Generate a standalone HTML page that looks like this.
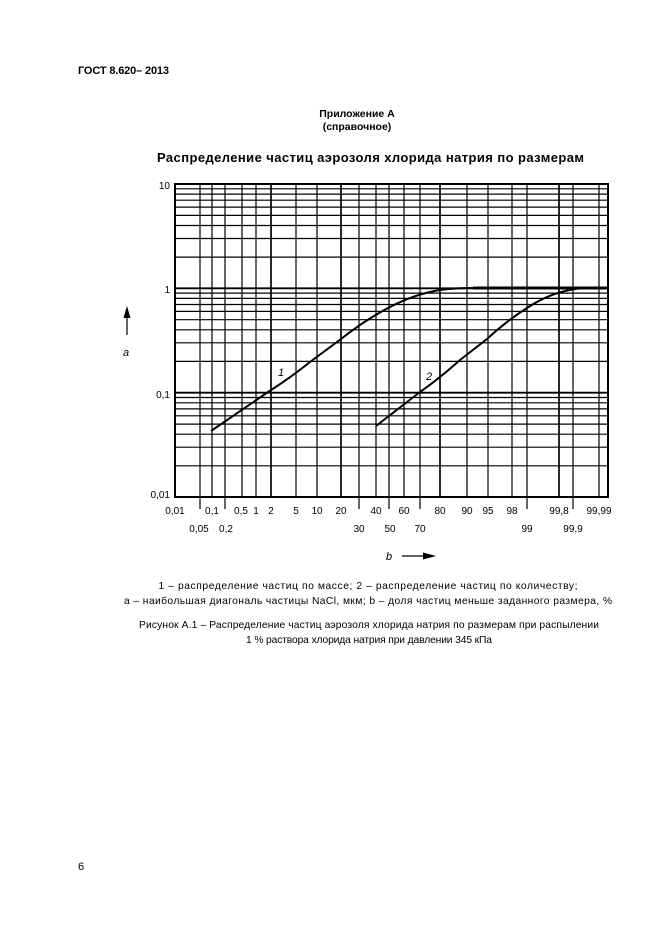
<!DOCTYPE html>
<html><head><meta charset="utf-8"><style>
html,body{margin:0;padding:0;background:#fff;}
svg{display:block;}
text{font-family:"Liberation Sans",sans-serif;fill:#000;}
</style></head><body>
<svg width="661" height="936" viewBox="0 0 661 936" xmlns="http://www.w3.org/2000/svg">
<text x="78" y="74" font-size="11" font-weight="bold" textLength="91">ГОСТ 8.620– 2013</text>
<text x="357" y="117" font-size="10.5" font-weight="bold" text-anchor="middle">Приложение А</text>
<text x="357" y="130" font-size="10.5" font-weight="bold" text-anchor="middle">(справочное)</text>
<text x="157" y="162" font-size="13" font-weight="bold" textLength="427">Распределение частиц аэрозоля хлорида натрия по размерам</text>

<g stroke="#000" stroke-width="1.2" fill="none">
<path d="M175 188.8H608M175 194.1H608M175 200.2H608M175 207.1H608M175 215.4H608M175 225.5H608M175 238.5H608M175 257.1H608
M175 293.1H608M175 298.4H608M175 304.5H608M175 311.4H608M175 319.7H608M175 329.8H608M175 342.8H608M175 361.4H608
M175 397.5H608M175 402.8H608M175 408.9H608M175 415.8H608M175 424.1H608M175 434.2H608M175 447.2H608M175 465.8H608"/>
<path d="M175 288.3H608M175 392.7H608" stroke-width="1.8"/>
<path d="M200 184V497M212 184V497M225 184V497M242 184V497M256 184V497M271 184V497M296 184V497M317 184V497M341 184V497M359 184V497M376 184V497M389 184V497M404 184V497M420 184V497M440 184V497M467 184V497M488 184V497M512 184V497M527 184V497M559 184V497M573 184V497M599 184V497"/>
<path d="M271 184V497M341 184V497M440 184V497M559 184V497" stroke-width="1.6"/>
<path d="M200 497V509M225 497V509M359 497V509M389 497V509M420 497V509M527 497V509M573 497V509"/>
<rect x="175" y="184" width="433" height="313" stroke-width="2"/>
<path d="M211 431 L271 390 Q290 378 310 362 L341 339 Q365 320 390 307 Q415 294 440 290 Q455 288 473 288 L608 288" stroke-width="2"/>
<path d="M608 288 L473 288" stroke-width="3"/>
<path d="M376 426 L420 392 Q440 378 460 360 L487 339 Q505 322 527 308 Q548 294 570 290 Q578 288 590 288" stroke-width="2"/>
</g>
<text x="278" y="376" font-size="11" font-style="italic">1</text>
<text x="426" y="380" font-size="11" font-style="italic">2</text>

<g font-size="10" text-anchor="end">
<text x="170" y="189">10</text>
<text x="170" y="293">1</text>
<text x="170" y="398">0,1</text>
<text x="170" y="498">0,01</text>
</g>
<text x="126" y="356" font-size="11" font-style="italic" text-anchor="middle">a</text>
<path d="M127 335V314" stroke="#000" stroke-width="1.2"/>
<path d="M123.5 318L127 306L130.5 318Z" fill="#000"/>

<g font-size="10" text-anchor="middle">
<text x="175" y="514">0,01</text>
<text x="212" y="514">0,1</text>
<text x="241" y="514">0,5</text>
<text x="256" y="514">1</text>
<text x="271" y="514">2</text>
<text x="296" y="514">5</text>
<text x="317" y="514">10</text>
<text x="341" y="514">20</text>
<text x="376" y="514">40</text>
<text x="404" y="514">60</text>
<text x="440" y="514">80</text>
<text x="467" y="514">90</text>
<text x="488" y="514">95</text>
<text x="512" y="514">98</text>
<text x="559" y="514">99,8</text>
<text x="599" y="514">99,99</text>
<text x="199" y="532">0,05</text>
<text x="226" y="532">0,2</text>
<text x="359" y="532">30</text>
<text x="390" y="532">50</text>
<text x="420" y="532">70</text>
<text x="527" y="532">99</text>
<text x="573" y="532">99,9</text>
</g>
<text x="389" y="560" font-size="11" font-style="italic" text-anchor="middle">b</text>
<path d="M402 556H426" stroke="#000" stroke-width="1.2"/>
<path d="M423 552.5L436 556L423 559.5Z" fill="#000"/>

<g font-size="10.3" text-anchor="middle">
<text x="368" y="589" textLength="419">1 – распределение частиц по массе; 2 – распределение частиц по количеству;</text>
<text x="368" y="604" textLength="488">а – наибольшая диагональ частицы NaCl, мкм; b – доля частиц меньше заданного размера, %</text>
<text x="369" y="628" textLength="460">Рисунок А.1 – Распределение частиц аэрозоля хлорида натрия по размерам при распылении</text>
<text x="369" y="643" textLength="246">1 % раствора хлорида натрия при давлении 345 кПа</text>
</g>
<text x="78" y="870" font-size="11">6</text>
</svg>
</body></html>
